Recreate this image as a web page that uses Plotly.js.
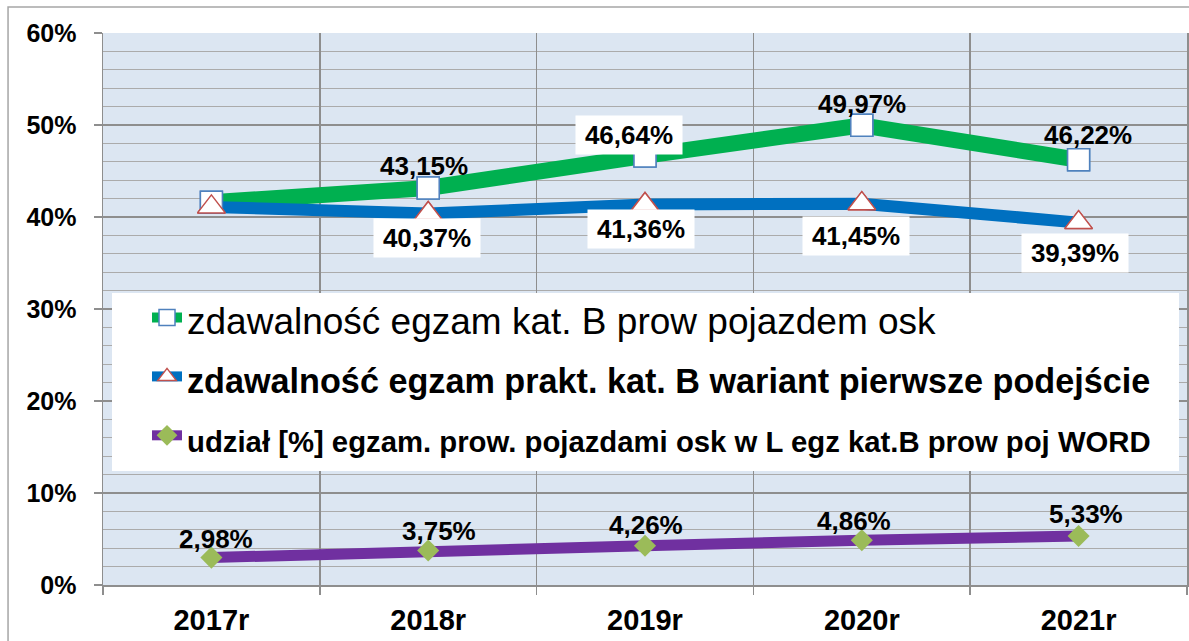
<!DOCTYPE html>
<html>
<head>
<meta charset="utf-8">
<script src="https://cdn.plot.ly/plotly-3.0.1.min.js"></script>
<style>
html,body{margin:0;padding:0;background:#fff;}
#chart{width:1189px;height:641px;}
</style>
</head>
<body>
<div id="chart"></div>
<script>
// ---- data ----
const years = ["2017r", "2018r", "2019r", "2020r", "2021r"];
const zdawalnoscOsk = [41.6, 43.15, 46.64, 49.97, 46.22];
const zdawalnoscPierwsze = [41.1, 40.37, 41.36, 41.45, 39.39];
const udzialOsk = [2.98, 3.75, 4.26, 4.86, 5.33];
const greenLabels = [null, "43,15%", "46,64%", "49,97%", "46,22%"];
const blueLabels = [null, "40,37%", "41,36%", "41,45%", "39,39%"];
const purpleLabels = ["2,98%", "3,75%", "4,26%", "4,86%", "5,33%"];
const seriesNames = [
  "zdawalność egzam kat. B prow pojazdem osk",
  "zdawalność egzam prakt. kat. B wariant pierwsze podejście",
  "udział [%] egzam. prow. pojazdami osk w L egz kat.B prow poj WORD"
];

// ---- label placement (pixel offsets) ----
const greenOff = [null, [-4, 22], [-16, 21], [0, 21], [9, 25]];
const greenBox = [false, false, true, false, false];
const blueOff = [null, [-1, -24], [-4, -25], [-6, -32], [-4, -30]];
const purpleOff = [[5, 19], [11, 20], [1, 21], [-8, 19], [7, 22]];

const FONT = "Liberation Sans, Arial, sans-serif";
const GREEN = "#00b050", BLUE = "#0070c0", PURPLE = "#7030a0";

const traces = [
  { x: years, y: zdawalnoscOsk, mode: "lines+markers", name: "<span style='font-size:37px'>" + seriesNames[0] + "</span>",
    line: { color: GREEN, width: 16 },
    marker: { symbol: "square", size: 22, color: "#ffffff", line: { color: "#4f81bd", width: 1.5 } } },
  { x: years, y: zdawalnoscPierwsze, mode: "lines+markers", name: "<b><span style='font-size:34.2px'>" + seriesNames[1] + "</span></b>",
    line: { color: BLUE, width: 12 },
    marker: { symbol: "triangle-up", size: 24, color: "#ffffff", line: { color: "#c0504d", width: 1.5 } } },
  { x: years, y: udzialOsk, mode: "lines+markers", name: "<b><span style='font-size:29.3px'>" + seriesNames[2] + "</span></b>",
    line: { color: PURPLE, width: 11 },
    marker: { symbol: "diamond", size: 17, color: "#9bbb59" } },
  // markers redrawn on top of all lines
  { x: years, y: zdawalnoscOsk, mode: "markers", showlegend: false, hoverinfo: "skip",
    marker: { symbol: "square", size: 22, color: "#ffffff", line: { color: "#4f81bd", width: 1.5 } } },
  { x: years, y: zdawalnoscPierwsze, mode: "markers", showlegend: false, hoverinfo: "skip",
    marker: { symbol: "triangle-up", size: 24, color: "#ffffff", line: { color: "#c0504d", width: 1.5 } } }
];

const annotations = [];
const labFont = { family: FONT, size: 26, color: "#000000", weight: "bold" };
years.forEach((yr, i) => {
  if (greenLabels[i]) {
    const a = { x: yr, y: zdawalnoscOsk[i], text: greenLabels[i], showarrow: false,
      xshift: greenOff[i][0], yshift: greenOff[i][1], font: labFont };
    if (greenBox[i]) { a.bgcolor = "#ffffff"; a.width = 100; a.height = 32; a.borderpad = 3; }
    annotations.push(a);
  }
  if (blueLabels[i]) {
    annotations.push({ x: yr, y: zdawalnoscPierwsze[i], text: blueLabels[i], showarrow: false,
      xshift: blueOff[i][0], yshift: blueOff[i][1], font: labFont,
      bgcolor: "#ffffff", width: 100, height: 32, borderpad: 3 });
  }
  annotations.push({ x: yr, y: udzialOsk[i], text: purpleLabels[i], showarrow: false,
    xshift: purpleOff[i][0], yshift: purpleOff[i][1], font: labFont });
});

const GRID = "#8e8e8e", MINOR = "#ababab";
const layout = {
  width: 1189, height: 641,
  margin: { l: 103, r: 2, t: 33, b: 56, pad: 0 },
  paper_bgcolor: "#ffffff",
  plot_bgcolor: "#dce6f2",
  showlegend: true,
  font: { family: FONT, color: "#000000" },
  xaxis: {
    type: "category", range: [-0.5, 4.5], tickson: "boundaries", ticks: "outside", ticklen: 8, tickwidth: 1.5, tickcolor: GRID,
    showgrid: true, gridcolor: GRID, gridwidth: 1.5,
    showline: true, linecolor: GRID, linewidth: 1.5,
    tickfont: { family: FONT, size: 29, weight: "bold", color: "#000000" },
    ticklabelstandoff: 9, fixedrange: true
  },
  yaxis: {
    range: [0, 60], dtick: 10, ticksuffix: "%", ticks: "outside", ticklen: 8, tickwidth: 1.5, tickcolor: GRID,
    showgrid: true, gridcolor: GRID, gridwidth: 1.5,
    minor: { dtick: 2, showgrid: true, gridcolor: MINOR, gridwidth: 1.2, ticks: "" },
    showline: true, linecolor: GRID, linewidth: 1.5, mirror: true, zeroline: false,
    tickfont: { family: FONT, size: 25, weight: "bold", color: "#000000" },
    ticklabelstandoff: 12, fixedrange: true
  },
  legend: {
    x: 0.0406, y: 0.547, xanchor: "left", yanchor: "top",
    bgcolor: "rgba(0,0,0,0)", borderwidth: 0,
    font: { family: FONT, size: 43, color: "#000000" },
    tracegroupgap: 0
  },
  shapes: [
    { type: "rect", xref: "paper", yref: "paper", x0: 0.0083, x1: 0.9926, y0: 0.2065, y1: 0.529,
      fillcolor: "#ffffff", line: { width: 0 }, layer: "above" },
    { type: "rect", xref: "paper", yref: "paper", x0: -0.0876, x1: 1.05, y0: -0.3, y1: 1.0471,
      fillcolor: "rgba(0,0,0,0)", line: { color: "#a6a6a6", width: 1.5 }, layer: "above" }
  ],
  annotations: annotations
};

Plotly.newPlot("chart", traces, layout, { displayModeBar: false, staticPlot: true });
</script>
</body>
</html>
